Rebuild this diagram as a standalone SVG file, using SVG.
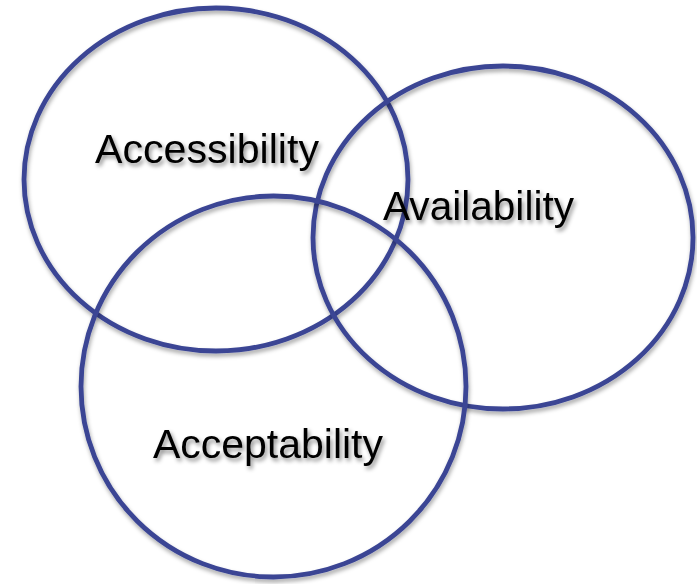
<svg xmlns="http://www.w3.org/2000/svg" width="697" height="584" viewBox="0 0 697 584">
<defs>
<filter id="sh" x="-10%" y="-10%" width="120%" height="120%">
<feDropShadow dx="1" dy="3" stdDeviation="2" flood-color="#000" flood-opacity="0.35"/>
</filter>
<filter id="tsh" x="-10%" y="-20%" width="120%" height="150%">
<feDropShadow dx="2" dy="3" stdDeviation="2" flood-color="#000" flood-opacity="0.45"/>
</filter>
</defs>
<style>
.c{fill:none;stroke:#3a4594;stroke-width:4.8}
.t{font-family:"Liberation Sans",Arial,sans-serif;font-size:41.5px;fill:#000}
</style>
<rect width="697" height="584" fill="#fff"/>
<g id="accessibility" filter="url(#sh)">
<ellipse class="c" cx="216" cy="179.5" rx="192" ry="171.5"/>
</g>
<g id="availability" filter="url(#sh)">
<ellipse class="c" cx="503" cy="237.5" rx="190" ry="171.5"/>
</g>
<g id="acceptability" filter="url(#sh)">
<ellipse class="c" cx="273.5" cy="386.5" rx="192.5" ry="190.5"/>
</g>
<g id="labels" filter="url(#tsh)">
<text class="t" x="95" y="163" textLength="224" lengthAdjust="spacingAndGlyphs">Accessibility</text>
<text class="t" x="383" y="220" textLength="191" lengthAdjust="spacingAndGlyphs">Availability</text>
<text class="t" x="153" y="458" textLength="230" lengthAdjust="spacingAndGlyphs">Acceptability</text>
</g>
<g id="connectors"/>
</svg>
